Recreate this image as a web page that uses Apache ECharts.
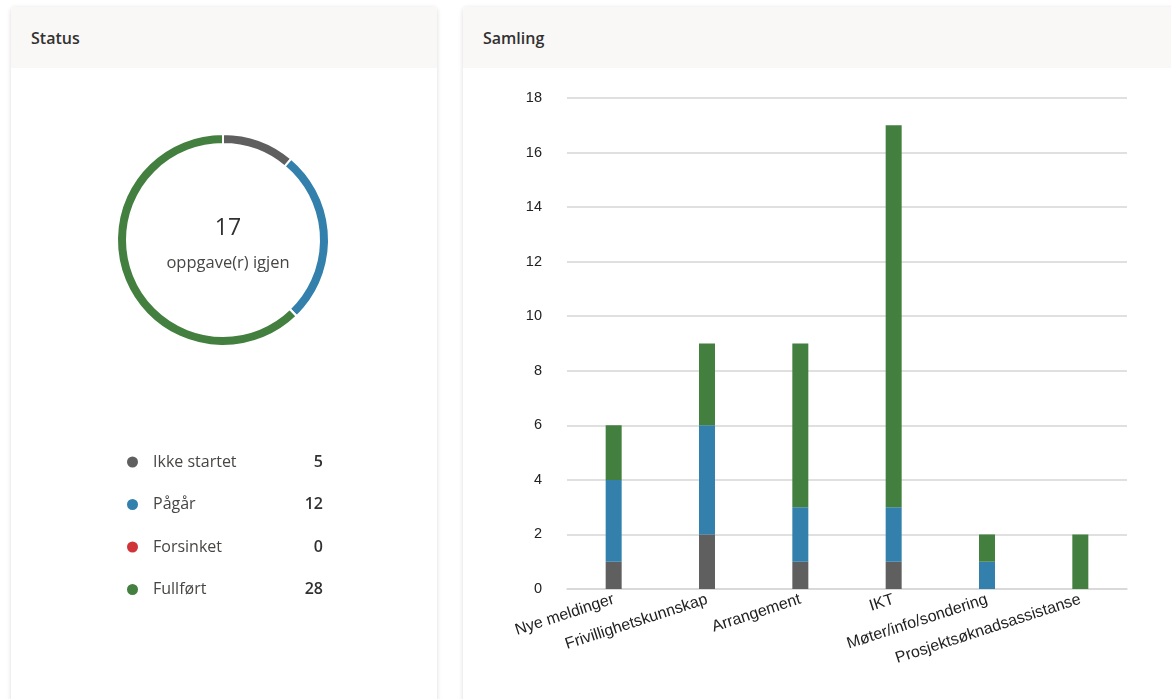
<!DOCTYPE html>
<html>
<head>
<meta charset="utf-8">
<script src="https://cdn.jsdelivr.net/npm/echarts@6/dist/echarts.min.js"></script>
<style>
  html, body { margin: 0; padding: 0; background: #fff; width: 1171px; height: 699px; overflow: hidden; }
  .card { position: absolute; top: 7px; height: 720px; background: #fff; border-radius: 4px;
          box-shadow: 0 1px 5px rgba(0,0,0,0.14); overflow: hidden; }
  .card .head { height: 61px; background: #f9f8f7; font-family: "Open Sans", "Noto Sans", sans-serif;
                font-weight: 600; font-size: 16px; color: #323130; line-height: 62px; padding-left: 20px; }
  .chart { position: absolute; top: 61px; left: 0; }
</style>
</head>
<body>
<div class="card" style="left:11px;width:426px;">
  <div class="head">Status</div>
  <div id="status" class="chart" style="width:426px;height:631px;"></div>
</div>
<div class="card" style="left:463px;width:730px;">
  <div class="head">Samling</div>
  <div id="samling" class="chart" style="width:708px;height:631px;"></div>
</div>
<script>
// statuser og farger
var statusNavn = ['Ikke startet', 'Pågår', 'Forsinket', 'Fullført'];
var statusFarge = ['#5f5f5f', '#3280ab', '#d13438', '#437f3f'];

// oppgaver per kategori
var kategorier = ['Nye meldinger', 'Frivillighetskunnskap', 'Arrangement', 'IKT', 'Møter/info/sondering', 'Prosjektsøknadsassistanse'];
var ikkeStartet = [1, 2, 1, 1, 0, 0];
var pagar = [3, 4, 2, 2, 1, 0];
var forsinket = [0, 0, 0, 0, 0, 0];
var fullfort = [2, 3, 6, 14, 1, 2];

function sum(arr) {
    var s = 0;
    for (var i = 0; i < arr.length; i++) s += arr[i];
    return s;
}

var totaler = [sum(ikkeStartet), sum(pagar), sum(forsinket), sum(fullfort)];
var igjen = totaler[0] + totaler[1] + totaler[2];

var pieData = [];
for (var i = 0; i < statusNavn.length; i++) {
    pieData.push({ name: statusNavn[i], value: totaler[i], itemStyle: { color: statusFarge[i] } });
}

var statusChart = echarts.init(document.getElementById('status'));
statusChart.setOption({
    animation: false,
    title: {
        text: String(igjen),
        subtext: 'oppgave(r) igjen',
        left: 212,
        top: 144,
        textAlign: 'center',
        itemGap: 15,
        textStyle: { fontFamily: 'Open Sans', fontWeight: 'normal', fontSize: 23, color: '#323130' },
        subtextStyle: { fontFamily: 'Open Sans', fontSize: 16.5, color: '#484644' }
    },
    legend: {
        orient: 'vertical',
        left: 109,
        top: 381,
        icon: 'circle',
        itemWidth: 13,
        itemHeight: 13,
        itemGap: 26.5,
        selectedMode: false,
        data: statusNavn,
        formatter: function (name) {
            var idx = statusNavn.indexOf(name);
            return '{n|' + name + '}{v|' + totaler[idx] + '}';
        },
        textStyle: {
            fontFamily: 'Open Sans',
            rich: {
                n: { width: 150, fontSize: 16, color: '#484644', padding: [0, 0, 0, 9], lineHeight: 20 },
                v: { width: 20, align: 'right', fontSize: 16, fontWeight: 600, color: '#323130', lineHeight: 20 }
            }
        }
    },
    series: [{
        type: 'pie',
        center: [212, 172],
        radius: [96, 106],
        startAngle: 90,
        clockwise: true,
        silent: true,
        label: { show: false },
        labelLine: { show: false },
        itemStyle: { borderColor: '#fff', borderWidth: 2 },
        data: pieData
    }]
});

var samlingChart = echarts.init(document.getElementById('samling'));
var serier = [ikkeStartet, pagar, forsinket, fullfort];
var barSeries = [];
for (var j = 0; j < serier.length; j++) {
    barSeries.push({
        name: statusNavn[j],
        type: 'bar',
        stack: 'total',
        barWidth: 16,
        itemStyle: { color: statusFarge[j] },
        data: serier[j]
    });
}
samlingChart.setOption({
    animation: false,
    grid: { left: 104, right: 44, top: 30, bottom: 110 },
    xAxis: {
        type: 'category',
        data: kategorier,
        axisLine: { lineStyle: { color: '#d6d6d6', width: 1.5 } },
        axisTick: { show: false },
        axisLabel: {
            interval: 0,
            rotate: 18,
            margin: 10,
            fontFamily: 'Liberation Sans',
            fontSize: 16,
            color: '#222'
        }
    },
    yAxis: {
        type: 'value',
        min: 0,
        max: 18,
        interval: 2,
        axisLine: { show: false },
        axisTick: { show: false },
        axisLabel: { margin: 25, fontFamily: 'Liberation Sans', fontSize: 14.5, color: '#222' },
        splitLine: { lineStyle: { color: '#d6d6d6', width: 1.5 } }
    },
    series: barSeries
});
</script>
</body>
</html>
